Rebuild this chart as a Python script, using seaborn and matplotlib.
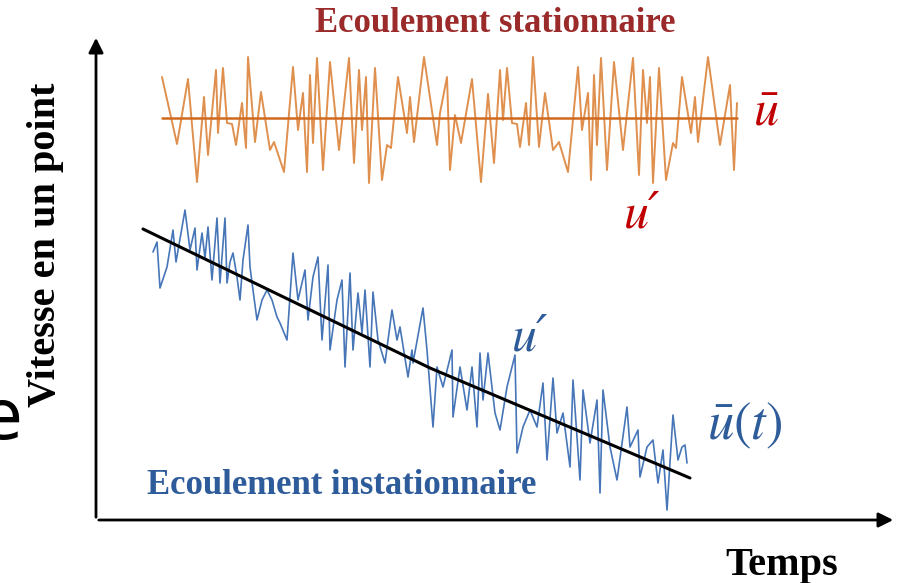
import numpy as np
import pandas as pd
import matplotlib.pyplot as plt
import seaborn as sns

# steady flow signal (time, speed)
t_steady = [66, 81, 92, 101, 108, 112, 120, 122, 127, 131, 136, 140, 146, 150, 152, 159, 165, 174, 178, 188,
            197, 202, 207, 211, 214, 217, 221, 227, 234, 243, 253, 258, 263, 266, 270, 273, 279, 286, 291, 295,
            302, 311, 314, 318, 328, 341, 344, 351, 354, 359, 365, 376, 385, 392, 398, 404, 407, 411, 416, 421,
            424, 430, 433, 437, 443, 449, 457, 463, 472, 482, 486, 492, 495, 498, 501, 505, 511, 518, 527, 537,
            543, 547, 551, 554, 557, 563, 570, 577, 580, 586, 595, 599, 602, 612, 624, 634, 638, 641]
u_steady = [443, 376, 441, 338, 423, 365, 450, 387, 452, 397, 396, 375, 417, 372, 463, 378, 428, 370, 378, 348,
            453, 390, 427, 348, 445, 377, 462, 350, 458, 370, 462, 357, 450, 390, 443, 337, 452, 340, 375, 372,
            443, 387, 423, 378, 463, 375, 407, 443, 350, 405, 377, 441, 338, 426, 357, 450, 400, 452, 397, 396,
            373, 417, 375, 463, 373, 427, 370, 378, 348, 453, 390, 427, 340, 445, 375, 462, 350, 458, 370, 462,
            345, 450, 397, 443, 337, 452, 340, 377, 372, 443, 387, 423, 378, 463, 375, 435, 350, 417]
u_mean_steady = 402

# unsteady flow signal
t_unsteady = [57, 61, 64, 71, 77, 80, 89, 94, 99, 101, 106, 109, 112, 116, 121, 124, 129, 131, 134, 137,
              141, 144, 147, 152, 154, 157, 161, 166, 171, 176, 181, 184, 191, 197, 202, 209, 212, 217, 222, 226,
              232, 234, 241, 246, 249, 254, 257, 262, 266, 269, 274, 277, 282, 289, 296, 301, 304, 312, 316, 317,
              327, 331, 337, 341, 347, 356, 357, 364, 371, 376, 381, 384, 387, 392, 399, 404, 411, 419, 421, 427,
              434, 441, 447, 451, 457, 461, 467, 474, 477, 484, 487, 494, 501, 504, 507, 514, 521, 531, 534, 542,
              544, 551, 557, 562, 567, 571, 577, 582, 586, 589, 591]
u_unsteady = [268, 278, 232, 253, 290, 258, 310, 270, 292, 250, 287, 262, 293, 240, 302, 237, 302, 237, 258, 267,
              243, 220, 260, 295, 253, 230, 200, 220, 230, 220, 203, 197, 180, 267, 220, 250, 200, 243, 263, 180,
              255, 170, 220, 240, 153, 247, 170, 227, 187, 230, 153, 228, 180, 157, 210, 180, 193, 143, 170, 157,
              212, 170, 93, 153, 133, 170, 103, 153, 110, 153, 93, 167, 120, 167, 107, 90, 133, 165, 67, 93,
              110, 93, 137, 60, 142, 87, 107, 53, 140, 40, 130, 77, 120, 27, 130, 73, 40, 113, 73, 90,
              43, 73, 80, 37, 70, 10, 105, 60, 73, 75, 57]

# mean of the unsteady signal
t_trend = [47, 204, 334, 464, 594]
u_trend = [291, 215, 152, 97, 42]

sns.set_style('white')
plt.rcParams['mathtext.fontset'] = 'stix'
serif = ['Liberation Serif', 'DejaVu Serif']
mathlike = ['STIXGeneral', 'DejaVu Serif']

fig = plt.figure(figsize=(9, 5.83), dpi=100)
ax = fig.add_axes([96/900, 63/583, 800/900, 485/583])

orange = '#E0904E'
blue = '#4676B8'

sns.lineplot(x=t_steady, y=u_steady, ax=ax, color=orange, lw=1.4, sort=False)
ax.plot([t_steady[0], t_steady[-1]], [u_mean_steady, u_mean_steady], color='#D06A20', lw=1.8)
sns.lineplot(x=t_unsteady, y=u_unsteady, ax=ax, color=blue, lw=1.2, sort=False)
sns.lineplot(x=t_trend, y=u_trend, ax=ax, color='black', lw=2.2, sort=False)

ax.set_xlim(0, 800)
ax.set_ylim(0, 485)
ax.set_xticks([])
ax.set_yticks([])
for s in ax.spines.values():
    s.set_visible(False)

# axes arrows
ax.annotate('', xy=(0, 1), xytext=(0, 0), xycoords='axes fraction',
            arrowprops=dict(arrowstyle='-|>', lw=2, color='black', mutation_scale=22))
ax.annotate('', xy=(1, 0), xytext=(0, 0), xycoords='axes fraction',
            arrowprops=dict(arrowstyle='-|>', lw=2, color='black', mutation_scale=22))

fig.text(495/900, 1 - 23/583, 'Ecoulement stationnaire', ha='center', va='center',
         fontsize=25, fontweight='bold', color='#9B2A2A', family=serif)
fig.text(342/900, 1 - 485/583, 'Ecoulement instationnaire', ha='center', va='center',
         fontsize=25, fontweight='bold', color='#2E5C9A', family=serif)
fig.text(46/900, 1 - 245/583, 'Vitesse en un point', ha='center', va='center', rotation=90,
         fontsize=29, fontweight='bold', color='black', family=serif)
fig.text(782/900, 1 - 565/583, 'Temps', ha='center', va='center',
         fontsize=29, fontweight='bold', color='black', family=serif)
fig.text(22/900, 1 - 420/583, 'e', ha='right', va='center', fontsize=50, color='black')

fig.text(766/900, 1 - 112/583, r'$\bar{u}$', ha='center', va='center', fontsize=36, color='#C00000')
fig.text(642/900, 1 - 215/583, 'u′', ha='center', va='center', fontsize=36, color='#C00000',
         family=mathlike, style='italic')
fig.text(530/900, 1 - 338/583, 'u′', ha='center', va='center', fontsize=36, color='#2E5C9A',
         family=mathlike, style='italic')
fig.text(745/900, 1 - 425/583, r'$\bar{u}(t)$', ha='center', va='center', fontsize=38, color='#2E5C9A')

fig.savefig('out.png', dpi=100)
